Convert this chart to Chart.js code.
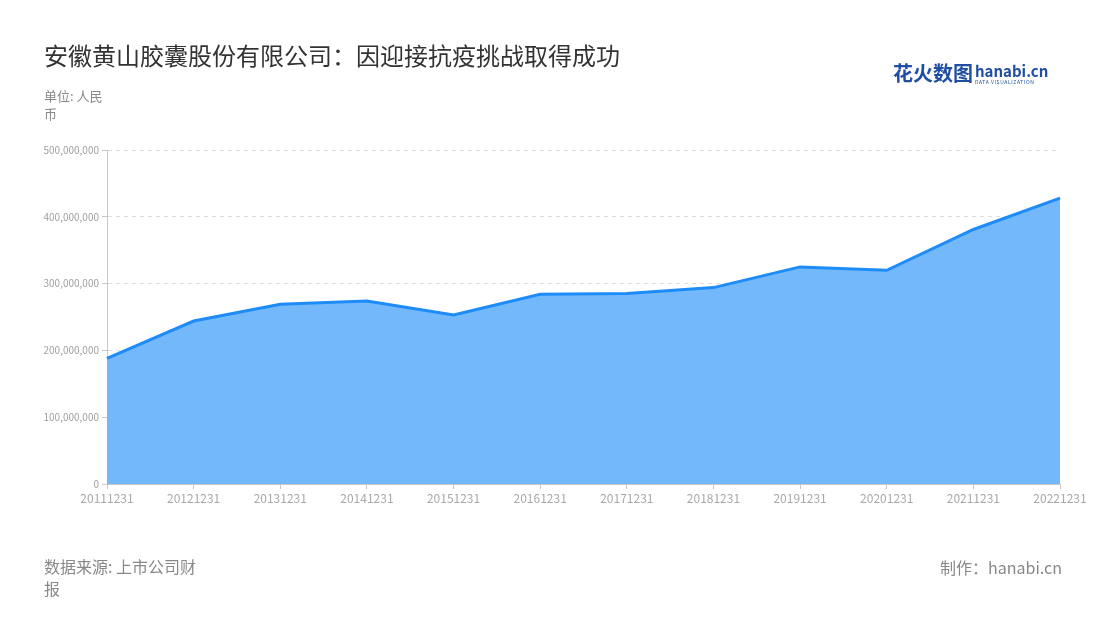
<!DOCTYPE html>
<html>
<head>
<meta charset="utf-8">
<script src="https://cdn.jsdelivr.net/npm/chart.js@4"></script>
<style>
    body { margin: 0; background: #fff; font-family: "Noto Sans CJK SC", "Noto Sans", sans-serif; }
    #wrap { position: relative; width: 1100px; height: 620px; overflow: hidden; }
    #chart { position: absolute; left: 0; top: 0; }
    .txt { position: absolute; white-space: nowrap; }
    #title { left: 44px; top: 37px; font-size: 24px; color: #333; }
    #unit { left: 44px; top: 87px; font-size: 13px; color: #888; line-height: 18px; white-space: normal; width: 70px; }
    #source { left: 44px; top: 555px; font-size: 16px; color: #888; line-height: 22px; white-space: normal; width: 160px; }
    #maker { right: 38px; top: 555px; font-size: 16px; color: #888; }
    #logo { left: 893px; top: 58px; }
    #logo .cn { font-size: 20px; font-weight: bold; color: #1f4ea3; }
    #logo .en { position: absolute; left: 82px; top: 2px; font-size: 15px; font-weight: bold; color: #1f4ea3; }
    #logo .sub { position: absolute; left: 82px; top: 20px; font-size: 5px; color: #1f4ea3; letter-spacing: 0.6px; }
</style>
</head>
<body>
<div id="wrap">
    <canvas id="chart" width="1100" height="620"></canvas>
    <div class="txt" id="title">安徽黄山胶囊股份有限公司：因迎接抗疫挑战取得成功</div>
    <div class="txt" id="unit">单位: 人民币</div>
    <div class="txt" id="logo"><span class="cn">花火数图</span><span class="en">hanabi.cn</span><span class="sub">DATA VISUALIZATION</span></div>
    <div class="txt" id="source">数据来源: 上市公司财报</div>
    <div class="txt" id="maker">制作：hanabi.cn</div>
</div>
<script>
// Data
const periods = ['20111231', '20121231', '20131231', '20141231', '20151231', '20161231',
    '20171231', '20181231', '20191231', '20201231', '20211231', '20221231'];
const revenue = [188000000, 244000000, 269000000, 274000000, 253000000, 284000000,
    285000000, 294000000, 325000000, 320000000, 381000000, 428000000];
const yTicks = [0, 100000000, 200000000, 300000000, 400000000, 500000000];

const axisGrey = '#c8c8c8';
const fontFamily = '"Noto Sans CJK SC", "Noto Sans", sans-serif';

new Chart(document.getElementById('chart').getContext('2d'), {
    type: 'line',
    data: {
        labels: periods,
        datasets: [{
            data: revenue,
            borderColor: '#1e8cf8',
            backgroundColor: '#74b8fc',
            borderWidth: 3,
            fill: 'origin',
            tension: 0,
            pointRadius: 0,
            pointHoverRadius: 0,
        }],
    },
    options: {
        responsive: false,
        animation: false,
        layout: { padding: { top: 150, right: 40, left: 0, bottom: 0 } },
        plugins: { legend: { display: false }, tooltip: { enabled: false } },
        scales: {
            x: {
                offset: false,
                afterFit: s => { s.height = 136; },
                grid: { drawOnChartArea: false, drawTicks: true, tickLength: 5, color: axisGrey },
                border: { color: axisGrey, width: 1 },
                ticks: { color: '#a8a8a8', font: { family: fontFamily, size: 12 }, maxRotation: 0, autoSkip: false, padding: 2 },
            },
            y: {
                min: 0,
                max: 500000000,
                afterFit: s => { s.width = 107; },
                afterBuildTicks: s => { s.ticks = yTicks.map(v => ({ value: v })); },
                grid: {
                    color: '#dedede',
                    lineWidth: 1,
                    tickLength: 5,
                    tickColor: axisGrey,
                },
                border: { color: axisGrey, width: 1, dash: [4, 4] },
                ticks: {
                    color: '#a0a0a0',
                    font: { family: fontFamily, size: 10 },
                    padding: 3,
                    callback: v => v.toLocaleString('en-US'),
                },
            },
        },
    },
});
</script>
</body>
</html>
